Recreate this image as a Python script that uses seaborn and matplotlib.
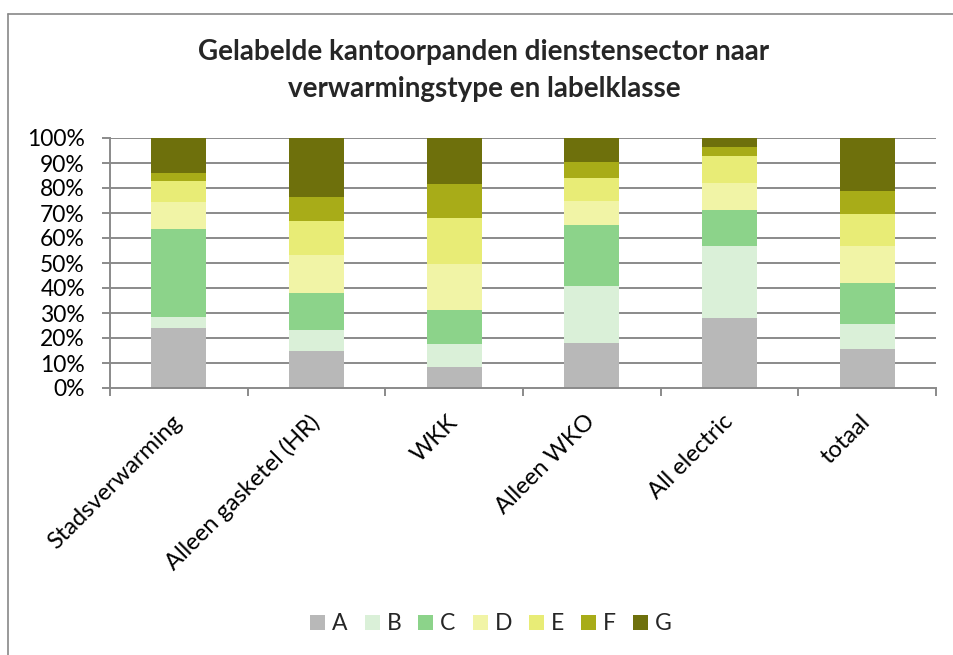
import matplotlib
matplotlib.use("Agg")
import matplotlib.pyplot as plt
from matplotlib.patches import Patch
from matplotlib.lines import Line2D
import numpy as np
import pandas as pd
import seaborn as sns

categories = ["Stadsverwarming", "Alleen gasketel (HR)", "WKK",
              "Alleen WKO", "All electric", "totaal"]
classes = ["A", "B", "C", "D", "E", "F", "G"]

A = [24.0, 14.7, 8.4, 18.2, 28.2, 15.6]
B = [4.5, 8.7, 9.4, 22.5, 28.7, 10.0]
C = [35.2, 14.8, 13.6, 24.6, 14.4, 16.6]
D = [10.8, 15.1, 18.4, 9.5, 10.8, 14.7]
E = [8.5, 13.6, 18.3, 9.3, 10.8, 12.7]
F = [3.2, 9.6, 13.7, 6.4, 3.6, 9.0]
G = [13.8, 23.5, 18.2, 9.5, 3.5, 21.4]

yticks = [0, 10, 20, 30, 40, 50, 60, 70, 80, 90, 100]
ytick_labels = [f"{v}%" for v in yticks]

colors = ["#b8b8b8", "#daf0d8", "#8cd38a", "#f1f4a6",
          "#e8ec76", "#a8ac18", "#6e700c"]

sns.set_theme(style="white")
plt.rcParams["font.family"] = ["Lato", "DejaVu Sans"]

df = pd.DataFrame({"cat": categories, "A": A, "B": B, "C": C, "D": D,
                   "E": E, "F": F, "G": G})
cum = df[classes].cumsum(axis=1)

fig = plt.figure(figsize=(9.54, 6.55), dpi=100)
ax = fig.add_axes([110 / 954, 1 - 388 / 655, 826 / 954, 250 / 655])

grid_col = "#8a8a8a"
for y in yticks[1:]:
    ax.axhline(y, color=grid_col, lw=1.4, zorder=0)

# stacked bars: draw cumulative totals from the top class down
for cls, col in reversed(list(zip(classes, colors))):
    sns.barplot(x=df["cat"], y=cum[cls], order=categories, color=col,
                width=0.4, saturation=1, edgecolor="none", linewidth=0,
                ax=ax, zorder=2)

ax.set_xlim(-0.5, len(categories) - 0.5)
ax.set_ylim(0, 100)
ax.set_xlabel("")
ax.set_ylabel("")
ax.set_yticks(yticks)
ax.set_yticklabels(ytick_labels, fontsize=16.5, color="#000000")

ax.set_xticks(range(len(categories)))
ax.set_xticklabels(categories, rotation=45, ha="right", va="center",
                   rotation_mode="anchor", fontsize=17, color="#000000")
ax.set_xticks(np.arange(-0.5, len(categories), 1.0), minor=True)
ax.tick_params(axis="x", which="major", length=0, pad=22)
ax.tick_params(axis="x", which="minor", length=6, width=1.4,
               color=grid_col, direction="out", bottom=True)
ax.tick_params(axis="y", length=6, width=1.4, color=grid_col,
               direction="out", left=True, pad=12)

for side in ["top", "right"]:
    ax.spines[side].set_visible(False)
for side in ["left", "bottom"]:
    ax.spines[side].set_visible(True)
    ax.spines[side].set_color(grid_col)
    ax.spines[side].set_linewidth(1.4)

fig.text(484 / 954, 1 - 52 / 655,
         "Gelabelde kantoorpanden dienstensector naar",
         ha="center", va="center", fontsize=20, fontweight="bold")
fig.text(484 / 954, 1 - 89 / 655,
         "verwarmingstype en labelklasse",
         ha="center", va="center", fontsize=20, fontweight="bold")

handles = [Patch(facecolor=c, edgecolor="none", label=l)
           for l, c in zip(classes, colors)]
fig.legend(handles=handles, loc="center", bbox_to_anchor=(491 / 954, 1 - 624 / 655),
           ncol=7, frameon=False, fontsize=16.5, handlelength=0.65,
           handleheight=0.65, handletextpad=0.3, columnspacing=0.75)

# outer chart frame
fig.add_artist(Line2D([8.5 / 954, 8.5 / 954], [0, 1 - 13.5 / 655],
                      transform=fig.transFigure, color="#888888", lw=1.2))
fig.add_artist(Line2D([8.5 / 954, 1], [1 - 13.5 / 655, 1 - 13.5 / 655],
                      transform=fig.transFigure, color="#888888", lw=1.2))

fig.savefig("out.png", dpi=100, facecolor="white")
